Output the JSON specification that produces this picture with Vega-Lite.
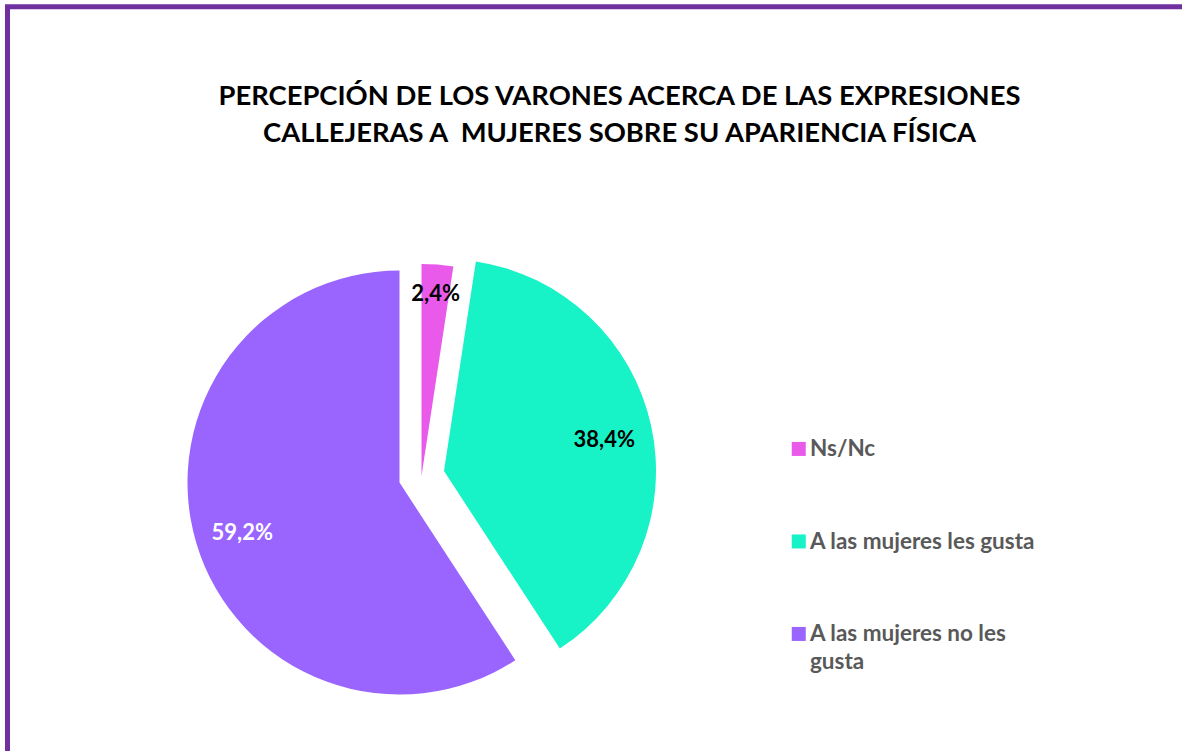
{
  "$schema": "https://vega.github.io/schema/vega-lite/v6.json",
  "width": 1300,
  "height": 900,
  "autosize": "none",
  "padding": {"left": 7.5, "top": 6.7, "right": 0, "bottom": 0},
  "background": "white",
  "view": {"stroke": "#7030A0", "strokeWidth": 5, "fill": "white"},
  "config": {
    "view": {"stroke": "#7030A0", "strokeWidth": 5},
    "font": "Lato"
  },
  "title": {
    "text": ["PERCEPCIÓN DE LOS VARONES ACERCA DE LAS EXPRESIONES", "CALLEJERAS A \u00a0MUJERES SOBRE SU APARIENCIA FÍSICA"],
    "orient": "top",
    "anchor": "middle",
    "frame": "group",
    "offset": 0,
    "dx": -38,
    "dy": 141,
    "fontSize": 27.4,
    "fontWeight": "bold",
    "font": "Lato",
    "color": "#000000",
    "lineHeight": 37
  },
  "data": {
    "values": [
      {"categoria": "Ns/Nc", "valor": 2.4, "etiqueta": "2,4%"},
      {"categoria": "A las mujeres les gusta", "valor": 38.4, "etiqueta": "38,4%"},
      {"categoria": "A las mujeres no les gusta", "valor": 59.2, "etiqueta": "59,2%"}
    ]
  },
  "transform": [
    {"stack": "valor", "groupby": [], "sort": [{"field": "valor", "order": "ascending"}], "as": ["inicio", "fin"]}
  ],
  "layer": [
    {
      "transform": [{"filter": "datum.categoria === 'Ns/Nc'"}],
      "mark": {"type": "arc", "radius": 212, "x": 414, "y": 469.3},
      "encoding": {
        "theta": {"field": "inicio", "type": "quantitative", "scale": {"domain": [0, 100]}},
        "theta2": {"field": "fin"},
        "color": {
          "field": "categoria", "type": "nominal",
          "scale": {"domain": ["Ns/Nc", "A las mujeres les gusta", "A las mujeres no les gusta"], "range": ["#E95AEB", "#17F2C7", "#9A64FF"]},
          "legend": {
            "title": null,
            "orient": "none",
            "legendX": 780,
            "legendY": 431,
            "symbolType": "square",
            "symbolSize": 196,
            "symbolStrokeWidth": 0,
            "labelFont": "Lato",
            "labelFontSize": 22.5,
            "labelFontWeight": "bold",
            "labelColor": "#595959",
            "labelOffset": 0,
            "labelLimit": 400,
            "labelBaseline": "alphabetic",
            "rowPadding": 68.5,
            "labelExpr": "datum.label === 'A las mujeres no les gusta' ? ['A las mujeres no les', 'gusta'] : datum.label",
            "encode": {"labels": {"update": {"dy": {"value": 7.5}, "lineHeight": {"value": 28}}}}
          }
        }
      }
    },
    {
      "transform": [{"filter": "datum.categoria === 'A las mujeres les gusta'"}],
      "mark": {"type": "arc", "radius": 212, "x": 436.5, "y": 464.3},
      "encoding": {
        "theta": {"field": "inicio", "type": "quantitative"},
        "theta2": {"field": "fin"},
        "color": {"field": "categoria", "type": "nominal"}
      }
    },
    {
      "transform": [{"filter": "datum.categoria === 'A las mujeres no les gusta'"}],
      "mark": {"type": "arc", "radius": 212, "x": 392, "y": 475.9},
      "encoding": {
        "theta": {"field": "inicio", "type": "quantitative"},
        "theta2": {"field": "fin"},
        "color": {"field": "categoria", "type": "nominal"}
      }
    },
    {
      "mark": {"type": "text", "radius": 187, "x": 414, "y": 469.3, "dy": 4, "font": "Lato", "fontSize": 22, "fontWeight": "bold"},
      "encoding": {
        "theta": {"field": "valor", "type": "quantitative", "stack": true, "sort": "ascending"},
        "order": {"field": "valor", "type": "quantitative", "sort": "ascending"},
        "text": {"field": "etiqueta"},
        "color": {"condition": {"test": "datum.categoria === 'A las mujeres no les gusta'", "value": "#FFFFFF"}, "value": "#000000"}
      }
    }
  ]
}
